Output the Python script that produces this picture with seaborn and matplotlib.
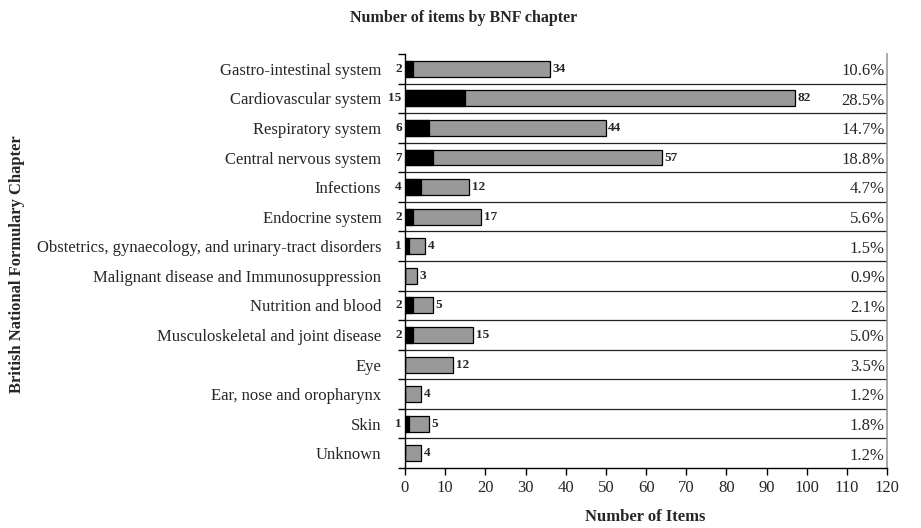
import matplotlib
matplotlib.use('Agg')
import matplotlib.pyplot as plt
import seaborn as sns
import numpy as np
import pandas as pd

# Data
chapters = ['Gastro-intestinal system', 'Cardiovascular system', 'Respiratory system',
            'Central nervous system', 'Infections', 'Endocrine system',
            'Obstetrics, gynaecology, and urinary-tract disorders',
            'Malignant disease and Immunosuppression', 'Nutrition and blood',
            'Musculoskeletal and joint disease', 'Eye', 'Ear, nose and oropharynx',
            'Skin', 'Unknown']
black_counts = [2, 15, 6, 7, 4, 2, 1, 0, 2, 2, 0, 0, 1, 0]
grey_counts = [34, 82, 44, 57, 12, 17, 4, 3, 5, 15, 12, 4, 5, 4]
percent_labels = ['10.6%', '28.5%', '14.7%', '18.8%', '4.7%', '5.6%', '1.5%',
                  '0.9%', '2.1%', '5.0%', '3.5%', '1.2%', '1.8%', '1.2%']

df = pd.DataFrame({'chapter': chapters, 'black': black_counts, 'grey': grey_counts})
df['total'] = df['black'] + df['grey']

sns.set_theme(style='white')
plt.rcParams['font.family'] = ['Liberation Serif', 'DejaVu Serif']

fig = plt.figure(figsize=(9.21, 5.28), dpi=100)
ax = fig.add_axes([0.4397, 0.1136, 0.5236, 0.7841])

sns.barplot(data=df, x='total', y='chapter', color='#999999', edgecolor='black',
            linewidth=0.9, width=0.54, saturation=1, ax=ax)
sns.barplot(data=df, x='black', y='chapter', color='black', edgecolor='black',
            linewidth=0.9, width=0.54, saturation=1, ax=ax)

ax.set_xlim(0, 120)
ax.set_ylim(len(chapters) - 0.5, -0.5)
ax.set_xticks(np.arange(0, 121, 10))

# separators between rows
bounds = np.arange(-0.5, len(chapters), 1.0)
ax.set_yticks(bounds, minor=True)
ax.tick_params(axis='y', which='minor', length=5, width=1, direction='out', color='black', left=True)
ax.tick_params(axis='y', which='major', length=0, pad=17, labelsize=12)
ax.tick_params(axis='x', which='major', length=5, width=1, direction='out', color='black',
               bottom=True, labelsize=12)
for b in bounds[1:-1]:
    ax.axhline(b, color='#222222', linewidth=0.9, zorder=0)

for i in range(len(chapters)):
    if black_counts[i] > 0:
        ax.text(-0.8, i, str(black_counts[i]), ha='right', va='center',
                fontsize=9.5, fontweight='bold', clip_on=False)
    ax.text(df['total'][i] + 0.6, i, str(grey_counts[i]), ha='left', va='center',
            fontsize=9.5, fontweight='bold')
    ax.text(119.4, i + 0.08, percent_labels[i], ha='right', va='center', fontsize=12)

for s in ['left', 'bottom']:
    ax.spines[s].set_color('black')
    ax.spines[s].set_linewidth(1)
ax.spines['top'].set_visible(False)
ax.spines['right'].set_color('#999999')
ax.spines['right'].set_linewidth(1.2)

ax.set_xlabel('')
ax.set_ylabel('')
fig.text(0.701, 0.02, 'Number of Items', ha='center', va='center',
         fontsize=12, fontweight='bold')
fig.text(0.019, 0.5, 'British National Formulary Chapter', rotation=90, ha='center',
         va='center', fontsize=12, fontweight='bold')
fig.text(0.503, 0.965, 'Number of items by BNF chapter', ha='center', va='center',
         fontsize=11.5, fontweight='bold')

fig.savefig('out.png', dpi=100)
